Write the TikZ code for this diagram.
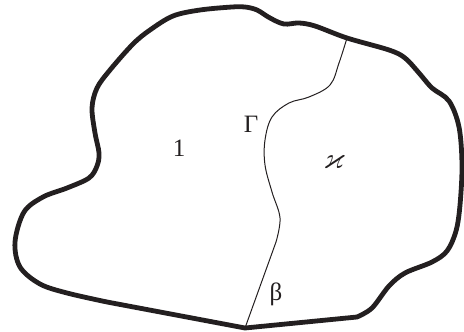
\documentclass[tikz,border=0pt]{standalone}
\usepackage{amsmath,amssymb}
\usepackage{fontspec}
\setmainfont{Liberation Serif}
\definecolor{ink}{HTML}{231F20}
\tikzset{
  rim/.style={line width=2.4pt, line join=round, draw=ink},
  cut/.style={line width=0.5pt, draw=ink},
  lbl/.style={inner sep=0pt, text=ink, font=\fontsize{12.5}{14}\selectfont},
}

\begin{document}
\begin{tikzpicture}[x=0.5pt, y=-0.5pt]
  \useasboundingbox (0,0) rectangle (464,331);

  % where the cut meets the rim
  \coordinate (top) at (347,38);
  \coordinate (bot) at (245,328);
  \coordinate (rb) at (357,317);
  \coordinate (lb) at (107,302);

  % outer rim
  \draw[rim] (bot) -- (rb) -- plot[smooth, tension=0.55] coordinates {
      (rb) (372,308) (389,286) (405,273) (432,262) (447,251) (456,231)
      (460,205) (462,165) (459,127) (449,101) (432,88) (419,73) (405,58)
      (389,50) (top) (315,26) (299,23) (284,24) (270,18) (257,10) (245,7)
      (232,7) (200,10) (173,16) (150,30) (133,44) (110,70) (97,88)
      (92,108) (95,133) (99,153) (97,166) (89,178) (67,188) (43,197)
      (24,212) (15,242) (20,267) (40,284) (67,293) (lb)}
    -- cycle;

  % the cut Gamma
  \draw[cut] plot[smooth, tension=0.6] coordinates {
      (top) (339,63) (330,85) (309,97) (289,103) (272,117) (265,140)
      (265,165) (272,192) (280,218) (276,242)} -- (bot);

  \node[lbl] (one) at (179,148) {1};
  \node[lbl] (gam) at (251,124) {Γ};
  \node[lbl, font=\fontsize{15}{16}\selectfont] (kap) at (334,162) {$\boldsymbol{\varkappa}$};
  \node[lbl] (bet) at (276,294) {β};
\end{tikzpicture}
\end{document}
